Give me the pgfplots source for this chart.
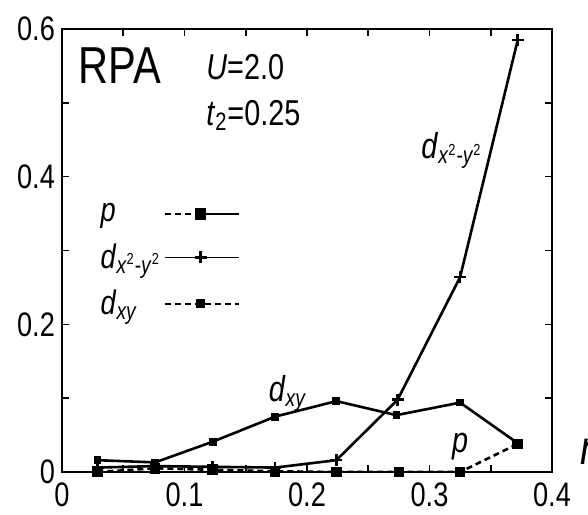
\documentclass[border=0pt]{standalone}
\usepackage{pgfplots}
\pgfplotsset{compat=1.18}
\usepackage{fontspec}
\setmainfont{Liberation Sans}[FakeStretch=0.8]
\newcommand{\dsub}[1]{\textit{d}\raisebox{-2.5pt}{\fontsize{12}{12}\selectfont #1}}
\begin{document}
\begin{tikzpicture}[x=1pt,y=1pt]
\begin{axis}[at={(0pt,0pt)}, anchor=south west, scale only axis,
  width=245pt, height=221.5pt,
  xmin=0, xmax=0.4, ymin=0, ymax=0.6,
  xtick={0,0.1,0.2,0.3,0.4}, xticklabels={0,0.1,0.2,0.3,0.4},
  minor xtick={0.05,0.15,0.25,0.35},
  ytick={0,0.2,0.4,0.6}, yticklabels={0,0.2,0.4,0.6},
  minor ytick={0.1,0.3,0.5},
  tick align=inside, major tick length=3.5pt, minor tick length=3.5pt,
  every tick/.style={black, line width=0.8pt},
  axis line style={line width=1pt},
  tick label style={font=\fontsize{17}{17}\selectfont},
  xticklabel style={yshift=-2pt},
  legend plot pos=right,
  legend cell align=left,
  legend style={at={(axis cs:0.028,0.37)}, anchor=north west, draw=none, fill=none,
    font=\fontsize{17}{17}\selectfont, row sep=5.5pt, inner sep=0pt},
]
\addplot[black, line width=1.3pt, densely dashed, mark=square*, mark size=2pt, mark options={solid},
  legend image code/.code={
    \draw[densely dashed, line width=0.8pt] (0pt,0pt) -- (18pt,0pt);
    \draw[solid, line width=0.8pt] (18pt,0pt) -- (37pt,0pt);
    \draw[solid, mark=square*, mark size=2.2pt] plot coordinates {(18pt,0pt)};}]
  coordinates {(0.029,0.0) (0.076,0.005) (0.123,0.003) (0.174,0.001) (0.224,0.0) (0.275,0.0) (0.325,0.0) (0.372,0.038)};
\addlegendentry{\textit{p}}
\addplot[black, line width=1.3pt, mark=+, mark size=3pt,
  legend image code/.code={
    \draw[solid, line width=0.8pt] (0pt,0pt) -- (37pt,0pt);
    \draw[solid, mark=+, mark size=3pt] plot coordinates {(18pt,0pt)};}]
  coordinates {(0.029,0.006) (0.076,0.008) (0.123,0.007) (0.174,0.006) (0.224,0.016) (0.274,0.098) (0.325,0.264) (0.372,0.585)};
\addlegendentry{\dsub{\textit{x}\textsuperscript{2}-\textit{y}\textsuperscript{2}}}
\addplot[black, line width=1.3pt, mark=square*, mark size=1.3pt,
  legend image code/.code={
    \draw[densely dashed, line width=0.8pt] (0pt,0pt) -- (37pt,0pt);
    \draw[solid, mark=square*, mark size=1.6pt] plot coordinates {(18pt,0pt)};}]
  coordinates {(0.029,0.016) (0.076,0.013) (0.123,0.041) (0.174,0.075) (0.224,0.096) (0.273,0.077) (0.325,0.094) (0.372,0.039)};
\addlegendentry{\dsub{\textit{xy}}}
\node[font=\fontsize{26}{26}\selectfont] at (axis cs:0.047,0.55) {RPA};
\node[anchor=west, font=\fontsize{18}{18}\selectfont] at (axis cs:0.112,0.548) {\textit{U}=2.0};
\node[anchor=west, font=\fontsize{18}{18}\selectfont] at (axis cs:0.112,0.483) {\textit{t}\textsubscript{2}=0.25};
\node[font=\fontsize{18}{18}\selectfont] at (axis cs:0.318,0.435) {\dsub{\textit{x}\textsuperscript{2}-\textit{y}\textsuperscript{2}}};
\node[font=\fontsize{18}{18}\selectfont] at (axis cs:0.184,0.107) {\dsub{\textit{xy}}};
\node[font=\fontsize{18}{18}\selectfont] at (axis cs:0.325,0.035) {\textit{p}};
\end{axis}
\node[anchor=west, inner sep=0pt, font=\fontsize{24}{24}\selectfont] at (259pt,10pt) {\textit{n}};
\pgfresetboundingbox
\useasboundingbox (-31pt,-21pt) rectangle (263pt,236pt);
\end{tikzpicture}
\end{document}
